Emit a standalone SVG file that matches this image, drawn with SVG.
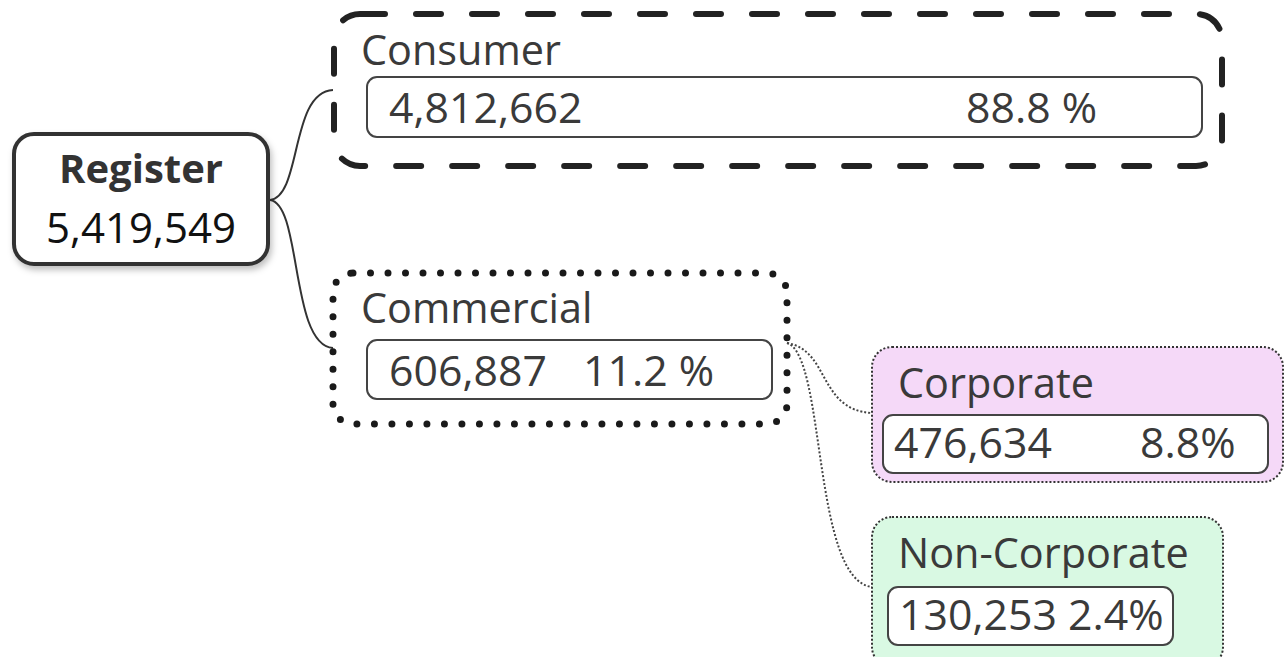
<svg xmlns="http://www.w3.org/2000/svg" width="1285" height="657" viewBox="0 0 1285 657">
<defs>
<filter id="sh" x="-10%" y="-10%" width="130%" height="130%">
<feDropShadow dx="2" dy="4" stdDeviation="3" flood-color="#000" flood-opacity="0.25"/>
</filter>
</defs>
<style>
text{font-family:"Open Sans","Noto Sans",sans-serif;fill:#3a3a3a}
.big{font-size:41.4px}
.num{font-size:42.8px}
.inner{fill:#fff;stroke:#444;stroke-width:2}
.conn{fill:none;stroke:#333;stroke-width:2}
.dconn{fill:none;stroke:#444;stroke-width:2;stroke-dasharray:2 2}
</style>
<rect width="1285" height="657" fill="#fff"/>
<g id="connectors">
<path class="conn" d="M270,200 C302,196 290,92 333,90"/>
<path class="conn" d="M270,200 C302,204 290,345 333,348"/>
<path class="dconn" d="M787,343 C830,350 818,410 872,413"/>
<path class="dconn" d="M787,343 C826,355 812,580 872,587"/>
</g>
<g id="register">
<rect x="14" y="134" width="254" height="130" rx="20" fill="#fff" stroke="#333" stroke-width="4" filter="url(#sh)"/>
<text x="141" y="183" text-anchor="middle" font-size="40" font-weight="bold" style="fill:#333">Register</text>
<text x="141" y="243" text-anchor="middle" font-size="42" style="fill:#111">5,419,549</text>
</g>
<g id="consumer">
<rect x="334" y="14" width="888" height="152" rx="26" fill="none" stroke="#222" stroke-width="6" stroke-linecap="round" stroke-dasharray="25 31"/>
<text class="big" x="361" y="65">Consumer</text>
<rect class="inner" x="367" y="77" width="835" height="60" rx="10"/>
<text class="num" x="389" y="123">4,812,662</text>
<text class="num" x="966" y="123">88.8 %</text>
</g>
<g id="commercial">
<rect x="333" y="273" width="454" height="151" rx="20" fill="none" stroke="#1a1a1a" stroke-width="7" stroke-linecap="round" stroke-dasharray="0 17.5"/>
<text class="big" x="361" y="323">Commercial</text>
<rect class="inner" x="367" y="340" width="405" height="59" rx="10"/>
<text class="num" x="389" y="386">606,887</text>
<text class="num" x="583" y="386">11.2 %</text>
</g>
<g id="corporate">
<rect x="872" y="347" width="411" height="135" rx="20" fill="#f5d9f8" stroke="#333" stroke-width="2" stroke-dasharray="2 2"/>
<text class="big" x="898" y="398">Corporate</text>
<rect class="inner" x="883" y="415" width="385" height="58" rx="10"/>
<text class="num" x="894" y="458">476,634</text>
<text class="num" x="1140" y="458">8.8%</text>
</g>
<g id="noncorporate">
<rect x="872" y="517" width="351" height="150" rx="20" fill="#d9f9e3" stroke="#333" stroke-width="2" stroke-dasharray="2 2"/>
<text class="big" x="898" y="568">Non-Corporate</text>
<rect class="inner" x="888" y="587" width="285" height="58" rx="10"/>
<text class="num" x="899" y="630">130,253 2.4%</text>
</g>
</svg>
